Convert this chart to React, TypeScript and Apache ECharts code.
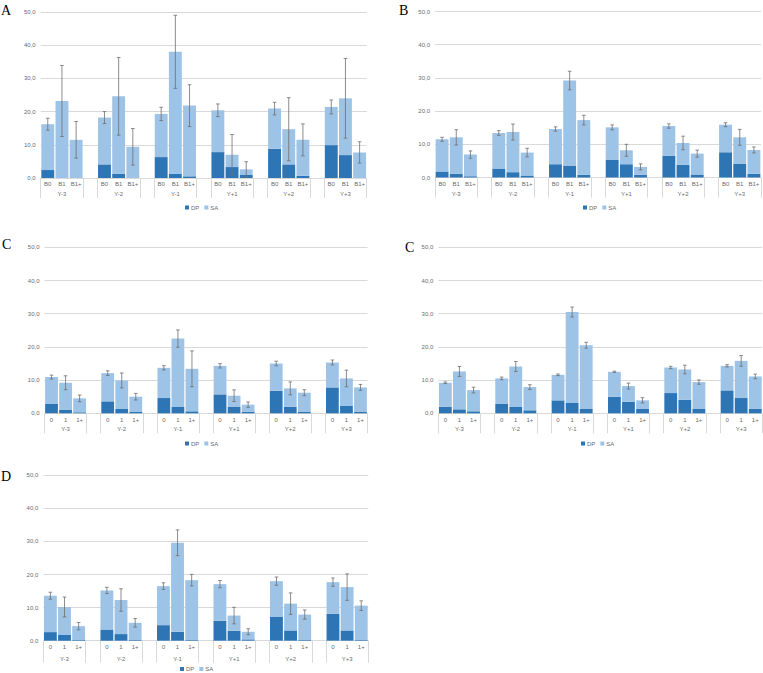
import React, { useEffect, useRef } from 'react';
import * as echarts from 'echarts';

const groups = ['Y-3', 'Y-2', 'Y-1', 'Y+1', 'Y+2', 'Y+3'];
const catsAB = ['B0', 'B1', 'B1+'];
const catsCD = ['0', '1', '1+'];
const yMin = 0;
const yMax = 50;
const yStep = 10;

// Panel A
const aDP = [2.4, 0.0, 0.0, 4.1, 1.3, 0.0, 6.3, 1.3, 0.5, 7.8, 3.3, 0.9, 8.8, 4.1, 0.7, 9.9, 6.9, 0.0];
const aSA = [13.8, 23.2, 11.5, 14.1, 23.3, 9.4, 13.0, 36.7, 21.3, 12.6, 3.7, 1.7, 12.1, 10.6, 10.8, 11.5, 17.1, 7.7];
const aErr = [1.8, 10.7, 5.5, 1.8, 11.7, 5.5, 2.0, 11.0, 6.3, 1.9, 6.1, 2.3, 1.9, 9.5, 4.8, 2.1, 12.0, 3.2];
// Panel B
const bDP = [1.8, 1.1, 0.4, 2.7, 1.6, 0.6, 4.0, 3.6, 0.8, 5.4, 4.0, 0.8, 6.5, 3.8, 0.9, 7.6, 4.2, 1.1];
const bSA = [9.7, 11.0, 6.5, 10.7, 12.1, 6.9, 10.6, 25.6, 16.5, 9.7, 4.2, 2.4, 9.0, 6.6, 6.3, 8.3, 7.9, 7.2];
const bErr = [0.6, 2.3, 1.1, 0.7, 2.4, 1.3, 0.65, 2.8, 1.45, 0.75, 1.8, 0.9, 0.65, 2.05, 1.05, 0.6, 2.4, 0.9];
// Panel C (left)
const c1DP = [2.8, 1.0, 0.3, 3.6, 1.3, 0.4, 4.6, 1.9, 0.6, 5.7, 1.9, 0.5, 6.8, 2.0, 0.4, 7.8, 2.2, 0.4];
const c1SA = [8.1, 8.2, 4.2, 8.5, 8.6, 4.6, 9.1, 20.6, 12.8, 8.6, 3.4, 2.1, 8.2, 5.5, 5.8, 7.5, 8.3, 7.4];
const c1Err = [0.6, 2.1, 1.0, 0.7, 2.25, 1.0, 0.65, 2.6, 5.4, 0.65, 1.75, 0.8, 0.7, 1.95, 0.9, 0.75, 2.5, 0.9];
// Panel C (right)
const c2DP = [2.0, 1.2, 0.6, 2.8, 1.9, 0.9, 3.9, 3.1, 1.3, 5.0, 3.5, 1.3, 6.1, 4.1, 1.3, 6.9, 4.6, 1.4];
const c2SA = [7.2, 11.4, 6.4, 7.7, 12.2, 7.0, 7.7, 27.4, 19.2, 7.5, 4.7, 2.6, 7.7, 9.1, 8.1, 7.4, 11.2, 9.7];
const c2Err = [0.25, 1.5, 0.85, 0.4, 1.5, 0.7, 0.25, 1.5, 0.9, 0.2, 0.9, 0.8, 0.35, 1.3, 0.65, 0.35, 1.6, 0.7];
// Panel D
const dDP = [2.6, 1.7, 0.2, 3.4, 2.0, 0.2, 4.7, 2.7, 0.2, 6.0, 3.0, 0.4, 7.3, 3.1, 0.2, 8.1, 3.1, 0.2];
const dSA = [11.0, 8.5, 4.2, 11.8, 10.3, 5.2, 11.8, 26.9, 18.1, 11.1, 4.6, 2.3, 10.7, 8.1, 7.7, 9.6, 13.1, 10.4];
const dErr = [1.05, 3.0, 1.1, 0.95, 3.4, 1.3, 1.0, 3.9, 1.75, 1.1, 2.5, 0.9, 1.25, 3.25, 1.4, 1.25, 4.0, 1.45];

const DP_COLOR = '#2E75B6';
const SA_COLOR = '#9DC3E6';
const GRID_COLOR = '#D9D9D9';
const TEXT_COLOR = '#6b6b6b';
const FONT = 'Liberation Sans, Arial, sans-serif';

type Panel = {
  letter: string;
  cats: string[];
  dp: number[];
  sa: number[];
  err: number[];
  grid: { left: number; top: number; width: number; height: number };
  letterPos: [number, number];
  legendPos: [number, number];
  catMargin: number;
  groupMargin: number;
  tickLen: number;
};

const panels: Panel[] = [
  { letter: 'A', cats: catsAB, dp: aDP, sa: aSA, err: aErr, grid: { left: 40.7, top: 12, width: 326, height: 166 }, letterPos: [1, 3], legendPos: [185, 204.5], catMargin: 3, groupMargin: 13, tickLen: 20 },
  { letter: 'B', cats: catsAB, dp: bDP, sa: bSA, err: bErr, grid: { left: 435, top: 11.5, width: 326, height: 166 }, letterPos: [399, 3], legendPos: [583, 204.5], catMargin: 3, groupMargin: 13, tickLen: 20 },
  { letter: 'C', cats: catsCD, dp: c1DP, sa: c1SA, err: c1Err, grid: { left: 44.5, top: 247.3, width: 323, height: 166 }, letterPos: [2, 237], legendPos: [185, 440.5], catMargin: 3.5, groupMargin: 12.5, tickLen: 20 },
  { letter: 'C', cats: catsCD, dp: c2DP, sa: c2SA, err: c2Err, grid: { left: 438.3, top: 247.3, width: 324, height: 166 }, letterPos: [405, 240], legendPos: [581, 440.5], catMargin: 3.5, groupMargin: 12.5, tickLen: 20 },
  { letter: 'D', cats: catsCD, dp: dDP, sa: dSA, err: dErr, grid: { left: 43.3, top: 475.3, width: 325, height: 165.4 }, letterPos: [1, 469], legendPos: [180, 666], catMargin: 3.5, groupMargin: 15, tickLen: 22 },
];

function expand<T>(vals: T[], blank: T): T[] {
  const out: T[] = [];
  groups.forEach((_, gi) => {
    for (let k = 0; k < 3; k++) out.push(vals[gi * 3 + k]);
    if (gi < groups.length - 1) out.push(blank);
  });
  return out;
}

function buildOption() {
  const grid: any[] = [];
  const xAxis: any[] = [];
  const yAxis: any[] = [];
  const series: any[] = [];
  const legend: any[] = [];
  const graphic: any[] = [];

  panels.forEach((p, pi) => {
    grid.push({ ...p.grid, containLabel: false });
    const catLabels = expand(groups.flatMap(() => p.cats), '');
    const groupLabels = expand(
      groups.flatMap((g) => ['', g, '']),
      ''
    );
    xAxis.push({
      type: 'category',
      gridIndex: pi,
      data: catLabels,
      axisLine: { show: false },
      axisTick: { show: false },
      axisLabel: { interval: 0, fontSize: 6, color: TEXT_COLOR, fontFamily: FONT, margin: p.catMargin },
      splitLine: { show: false },
    });
    xAxis.push({
      type: 'category',
      gridIndex: pi,
      position: 'bottom',
      data: groupLabels,
      axisLine: { show: false },
      axisTick: {
        show: true,
        length: p.tickLen,
        interval: (idx: number) => idx % 4 === 0 || idx % 4 === 3,
        lineStyle: { color: GRID_COLOR, width: 1 },
      },
      axisLabel: { interval: 0, fontSize: 6, color: TEXT_COLOR, fontFamily: FONT, margin: p.groupMargin },
      splitLine: { show: false },
    });
    yAxis.push({
      type: 'value',
      gridIndex: pi,
      min: yMin,
      max: yMax,
      interval: yStep,
      axisLine: { show: false },
      axisTick: { show: false },
      axisLabel: {
        fontSize: 6,
        color: TEXT_COLOR,
        fontFamily: FONT,
        margin: 5,
        formatter: (v: number) => v.toFixed(1).replace('.', ','),
      },
      splitLine: { lineStyle: { color: GRID_COLOR, width: 1 } },
    });
    const xi = pi * 2;
    series.push({
      name: 'DP',
      type: 'bar',
      xAxisIndex: xi,
      yAxisIndex: pi,
      stack: 'tot' + pi,
      data: expand(p.dp as any[], '-'),
      itemStyle: { color: DP_COLOR },
      barCategoryGap: '9%',
    });
    series.push({
      name: 'SA',
      type: 'bar',
      xAxisIndex: xi,
      yAxisIndex: pi,
      stack: 'tot' + pi,
      data: expand(p.sa as any[], '-'),
      itemStyle: { color: SA_COLOR },
      barCategoryGap: '9%',
    });
    const errData: number[][] = [];
    p.dp.forEach((d, i) => {
      const gi = Math.floor(i / 3);
      const idx = gi * 4 + (i % 3);
      errData.push([idx, d + p.sa[i], p.err[i]]);
    });
    series.push({
      name: 'err' + pi,
      type: 'custom',
      xAxisIndex: xi,
      yAxisIndex: pi,
      z: 5,
      encode: { x: 0, y: 1 },
      data: errData,
      renderItem: (params: any, api: any) => {
        const x = api.value(0);
        const v = api.value(1);
        const e = api.value(2);
        const top = api.coord([x, v + e]);
        const bot = api.coord([x, v - e]);
        const w = 1.8;
        const style = { stroke: '#6e6e6e', lineWidth: 0.8 };
        return {
          type: 'group',
          children: [
            { type: 'line', shape: { x1: top[0], y1: top[1], x2: bot[0], y2: bot[1] }, style },
            { type: 'line', shape: { x1: top[0] - w, y1: top[1], x2: top[0] + w, y2: top[1] }, style },
            { type: 'line', shape: { x1: bot[0] - w, y1: bot[1], x2: bot[0] + w, y2: bot[1] }, style },
          ],
        };
      },
    });
    legend.push({
      data: ['DP', 'SA'],
      left: p.legendPos[0],
      top: p.legendPos[1],
      padding: 0,
      itemWidth: 4,
      itemHeight: 4,
      itemGap: 5,
      icon: 'rect',
      selectedMode: false,
      textStyle: { fontSize: 6, color: TEXT_COLOR, fontFamily: FONT, padding: [0, 0, 0, -3] },
    });
    graphic.push({
      type: 'text',
      left: p.letterPos[0],
      top: p.letterPos[1],
      style: { text: p.letter, fontSize: 14, fontFamily: 'Liberation Serif, Times New Roman, serif', fill: '#000' },
    });
  });

  return { animation: false, backgroundColor: '#fff', grid, xAxis, yAxis, series, legend, graphic };
}

export default function App() {
  const ref = useRef<HTMLDivElement>(null);
  useEffect(() => {
    if (!ref.current) return;
    const chart = echarts.init(ref.current, undefined, { renderer: 'svg' });
    chart.setOption(buildOption() as any);
    return () => chart.dispose();
  }, []);
  return <div ref={ref} style={{ position: 'absolute', left: 0, top: 0, width: 763, height: 673 }} />;
}
